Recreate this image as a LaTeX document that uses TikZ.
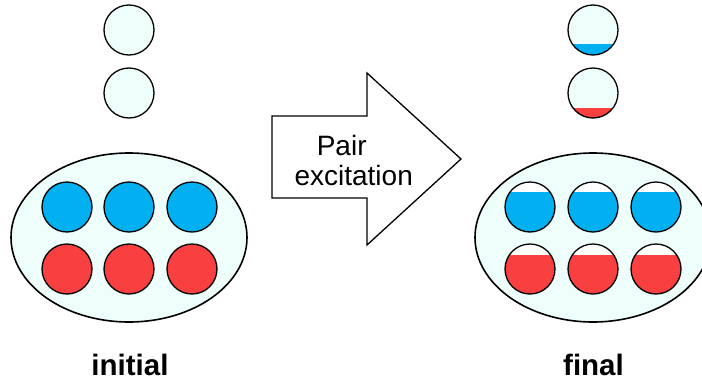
\documentclass[tikz,border=0pt]{standalone}
\usepackage{fontspec}
\setmainfont{Liberation Sans}
\usetikzlibrary{shapes.geometric}
\definecolor{pale}{RGB}{238,255,251}
\definecolor{eblue}{RGB}{0,176,240}
\definecolor{ered}{RGB}{248,64,64}
\tikzset{
  orb/.style={circle, draw=black, line width=1.3pt, minimum size=50pt, inner sep=0pt},
  emptyorb/.style={orb, fill=pale},
  fullorb/.style={orb, fill=#1},
  partorb/.style 2 args={orb, fill=white, path picture={
      \fill[#1] (path picture bounding box.south west) rectangle ([yshift=#2]path picture bounding box.south east);}},
  partorbpale/.style 2 args={orb, fill=pale, path picture={
      \fill[#1] (path picture bounding box.south west) rectangle ([yshift=#2]path picture bounding box.south east);}},
  blob/.style={ellipse, draw=black, line width=1.6pt, fill=pale, minimum width=236pt, minimum height=169pt, inner sep=0pt},
  bigarrow/.style={draw=black, line width=1.3pt, fill=white, line join=miter},
  arrtext/.style={font=\fontsize{28}{30}\selectfont, inner sep=0pt, anchor=base},
  label/.style={font=\fontsize{29.5}{32}\selectfont\bfseries, inner sep=0pt, anchor=base}
}
\begin{document}
\begin{tikzpicture}[x=1pt, y=-1pt]
\useasboundingbox (0,0) rectangle (702,383);
\begin{scope}
\clip (0,0) rectangle (702,383);
% left (initial)
\node[emptyorb] (lt1) at (129,30) {};
\node[emptyorb] (lt2) at (129,93) {};
\node[blob] (lblob) at (129,237.5) {};
\node[fullorb=eblue] (lb1) at (67,207) {};
\node[fullorb=eblue] (lb2) at (129,207) {};
\node[fullorb=eblue] (lb3) at (192,207) {};
\node[fullorb=ered] (lr1) at (67,269) {};
\node[fullorb=ered] (lr2) at (129,269) {};
\node[fullorb=ered] (lr3) at (192,269) {};
\node[label] (linit) at (130,375) {initial};
% arrow
\draw[bigarrow] (272,116) -- (367,116) -- (367,73) -- (461,159) -- (367,245) -- (367,198) -- (272,198) -- cycle;
\node[arrtext] (t1) at (341.7,155) {Pair};
\node[arrtext] (t2) at (353.7,185) {excitation};
% right (final)
\node[partorbpale={eblue}{11pt}] (rt1) at (593,30) {};
\node[partorbpale={ered}{10pt}] (rt2) at (593,93) {};
\node[blob] (rblob) at (593,237.5) {};
\node[partorb={eblue}{40pt}] (rb1) at (530,207) {};
\node[partorb={eblue}{40pt}] (rb2) at (593,207) {};
\node[partorb={eblue}{40pt}] (rb3) at (656,207) {};
\node[partorb={ered}{39pt}] (rr1) at (530,269) {};
\node[partorb={ered}{39pt}] (rr2) at (593,269) {};
\node[partorb={ered}{39pt}] (rr3) at (656,269) {};
\node[label] (lfin) at (593.5,375) {final};
\end{scope}
\end{tikzpicture}
\end{document}
